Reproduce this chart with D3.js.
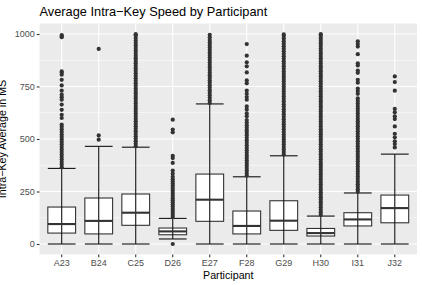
<!DOCTYPE html>
<html>
<head>
<meta charset="utf-8">
<script src="https://cdn.jsdelivr.net/npm/d3@7"></script>
<style>
	body { margin: 0; background: #fff; }
	text { font-family: "Liberation Sans", Arial, Helvetica, sans-serif; }
</style>
</head>
<body>
<div id="chart"></div>
<script>
// Box plot data

var participants = ["A23", "B24", "C25", "D26", "E27", "F28", "G29", "H30", "I31", "J32"];

var whiskerLow = [0, 0, 0, 24, 0, 0, 0, 0, 0, 0];
var q1 = [52, 48, 89, 44, 108, 48, 65, 38, 86, 101];
var median = [95, 110, 149, 60, 211, 86, 111, 52, 117, 171];
var q3 = [176, 219, 238, 76, 333, 157, 206, 74, 149, 233];
var whiskerHigh = [360, 465, 461, 122, 667, 320, 420, 133, 243, 428];

var outA23 = [366, 378, 390, 402, 414, 426, 438, 450, 462, 474, 486, 498, 510, 522, 534, 546, 558, 568,
	600, 615, 639, 664, 687, 699, 711, 730, 755, 782, 806, 815, 822, 985, 990, 995];
var outB24 = [497, 517, 929];
var outC25 = [465, 477, 489, 501, 513, 525, 537, 549, 561, 573, 585, 597, 609, 621, 633, 645, 657, 669,
	681, 693, 705, 717, 729, 741, 753, 765, 777, 789, 801, 813, 825, 837, 849, 861, 873, 885, 897, 909,
	921, 933, 945, 957, 969, 981, 993, 999];
var outD26 = [0, 128, 138, 148, 158, 168, 178, 188, 198, 208, 218, 228, 238, 248, 258, 268, 278, 288, 298,
	308, 320, 335, 350, 386, 409, 420, 532, 545, 592];
var outE27 = [672, 684, 696, 708, 720, 732, 744, 756, 768, 780, 792, 804, 816, 828, 840, 852, 864, 876,
	888, 900, 912, 924, 936, 948, 960, 972, 984, 996];
var outF28 = [326, 338, 350, 362, 374, 386, 398, 410, 422, 434, 446, 458, 470, 482, 494, 506, 518, 530,
	542, 554, 566, 578, 590, 608, 622, 640, 655, 687, 700, 715, 731, 765, 779, 817, 846, 865, 897, 952];
var outG29 = [426, 438, 450, 462, 474, 486, 498, 510, 522, 534, 546, 558, 570, 582, 594, 606, 618, 630,
	642, 654, 666, 678, 690, 702, 714, 726, 738, 750, 762, 774, 786, 798, 810, 822, 834, 846, 858, 870,
	882, 894, 906, 918, 930, 942, 954, 966, 978, 990, 998];
var outH30 = [139, 151, 163, 175, 187, 199, 211, 223, 235, 247, 259, 271, 283, 295, 307, 319, 331, 343,
	355, 367, 379, 391, 403, 415, 427, 439, 451, 463, 475, 487, 499, 511, 523, 535, 547, 559, 571, 583,
	595, 607, 619, 631, 643, 655, 667, 679, 691, 703, 715, 727, 739, 751, 763, 775, 787, 799, 811, 823,
	835, 847, 859, 871, 883, 895, 907, 919, 931, 943, 955, 967, 979, 991, 999];
var outI31 = [249, 261, 273, 285, 297, 309, 321, 333, 345, 357, 369, 381, 393, 405, 417, 429, 441, 453,
	465, 477, 489, 501, 513, 525, 537, 549, 561, 573, 585, 597, 609, 621, 633, 645, 657, 669, 681, 693,
	715, 728, 740, 768, 782, 815, 826, 850, 860, 904, 940, 952, 965];
var outJ32 = [460, 476, 489, 508, 525, 560, 595, 608, 627, 643, 730, 771, 798];

var outliers = [outA23, outB24, outC25, outD26, outE27, outF28, outG29, outH30, outI31, outJ32];

var yTicks = [0, 250, 500, 750, 1000];
var yMinor = [125, 375, 625, 875];

// SVG setup
var svgWidth = 422;
var svgHeight = 285;

var margin = { top: 23.5, left: 39.5, bottom: 30.5, right: 5 };

var width = svgWidth - margin.left - margin.right;
var height = svgHeight - margin.top - margin.bottom;

var svg = d3.select("#chart").append("svg")
	.attr("width", svgWidth)
	.attr("height", svgHeight);

var chartGroup = svg.append("g")
	.attr("transform", `translate(${margin.left}, ${margin.top})`);

// scales (ggplot style expansion)
var xScale = d3.scaleBand()
	.domain(participants)
	.range([0, width])
	.paddingOuter(0.1)
	.paddingInner(0);

var yScale = d3.scaleLinear()
	.domain([-50, 1050])
	.range([height, 0]);

var boxW = xScale.bandwidth() * 0.75;
function cx(p) { return xScale(p) + xScale.bandwidth() / 2; }

// panel background
chartGroup.append("rect")
	.attr("width", width)
	.attr("height", height)
	.attr("fill", "#EBEBEB");

// grid lines
chartGroup.selectAll(".minor").data(yMinor).enter().append("line")
	.attr("x1", 0).attr("x2", width)
	.attr("y1", d => yScale(d)).attr("y2", d => yScale(d))
	.attr("stroke", "#fff").attr("stroke-width", 0.55);

chartGroup.selectAll(".major").data(yTicks).enter().append("line")
	.attr("x1", 0).attr("x2", width)
	.attr("y1", d => yScale(d)).attr("y2", d => yScale(d))
	.attr("stroke", "#fff").attr("stroke-width", 1.1);

chartGroup.selectAll(".vgrid").data(participants).enter().append("line")
	.attr("x1", d => cx(d)).attr("x2", d => cx(d))
	.attr("y1", 0).attr("y2", height)
	.attr("stroke", "#fff").attr("stroke-width", 1.1);

var boxes = participants.map(function(p, i) {
	return { p: p, lo: whiskerLow[i], q1: q1[i], med: median[i], q3: q3[i], hi: whiskerHigh[i], out: outliers[i] };
});

// boxes
var boxGroup = chartGroup.selectAll(".box").data(boxes).enter().append("g");

boxGroup.append("rect")
	.attr("x", d => cx(d.p) - boxW / 2)
	.attr("y", d => yScale(d.q3))
	.attr("width", boxW)
	.attr("height", d => yScale(d.q1) - yScale(d.q3))
	.attr("fill", "#fff")
	.attr("stroke", "#333")
	.attr("stroke-width", 1.1);

// outlier points
boxes.forEach(function(b) {
	chartGroup.selectAll(null).data(b.out).enter().append("circle")
		.attr("cx", cx(b.p))
		.attr("cy", d => yScale(d))
		.attr("r", 2.1)
		.attr("fill", "#333");
});

// errorbar layer (drawn over the boxes)
boxGroup.append("line")
	.attr("x1", d => cx(d.p)).attr("x2", d => cx(d.p))
	.attr("y1", d => yScale(d.lo)).attr("y2", d => yScale(d.hi))
	.attr("stroke", "#111").attr("stroke-width", 1.1);

boxGroup.append("line")
	.attr("x1", d => cx(d.p) - boxW / 2).attr("x2", d => cx(d.p) + boxW / 2)
	.attr("y1", d => yScale(d.lo)).attr("y2", d => yScale(d.lo))
	.attr("stroke", "#111").attr("stroke-width", 1.1);

boxGroup.append("line")
	.attr("x1", d => cx(d.p) - boxW / 2).attr("x2", d => cx(d.p) + boxW / 2)
	.attr("y1", d => yScale(d.hi)).attr("y2", d => yScale(d.hi))
	.attr("stroke", "#111").attr("stroke-width", 1.1);

// median
boxGroup.append("line")
	.attr("x1", d => cx(d.p) - boxW / 2).attr("x2", d => cx(d.p) + boxW / 2)
	.attr("y1", d => yScale(d.med)).attr("y2", d => yScale(d.med))
	.attr("stroke", "#333").attr("stroke-width", 2.1);

// axes
var bottomAxis = d3.axisBottom(xScale).tickSize(2.7).tickPadding(2);
var leftAxis = d3.axisLeft(yScale).tickValues(yTicks).tickFormat(d3.format("d")).tickSize(2.7).tickPadding(2);

var xAxis = chartGroup.append("g")
	.attr("transform", `translate(0, ${height})`)
	.call(bottomAxis);

var yAxis = chartGroup.append("g").call(leftAxis);

[xAxis, yAxis].forEach(function(ax) {
	ax.select(".domain").remove();
	ax.selectAll(".tick line").attr("stroke", "#333").attr("stroke-width", 1.1);
	ax.selectAll(".tick text")
		.attr("fill", "#4D4D4D")
		.style("font-size", "9px")
		.style("font-family", "'Liberation Sans', Arial, sans-serif");
});

// labels
svg.append("text")
	.attr("x", margin.left)
	.attr("y", 15.5)
	.style("font-size", "12.8px")
	.attr("fill", "#000")
	.text("Average Intra\u2212Key Speed by Participant");

svg.append("text")
	.attr("x", margin.left + width / 2)
	.attr("y", 279)
	.attr("text-anchor", "middle")
	.style("font-size", "10.7px")
	.attr("fill", "#000")
	.text("Participant");

svg.append("text")
	.attr("transform", `translate(6, ${margin.top + height / 2}) rotate(-90)`)
	.attr("text-anchor", "middle")
	.style("font-size", "10.7px")
	.attr("fill", "#000")
	.text("Intra\u2212Key Average in MS");
</script>
</body>
</html>
